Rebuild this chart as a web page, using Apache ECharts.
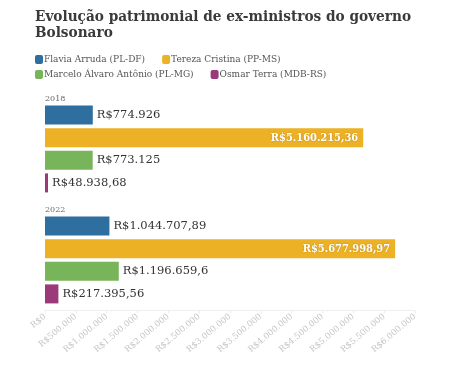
<!DOCTYPE html>
<html><head><meta charset="utf-8">
<script src="https://cdn.jsdelivr.net/npm/echarts@6/dist/echarts.min.js"></script>
<style>html,body{margin:0;padding:0;background:#fff}#c{width:449px;height:372px}</style>
</head><body><div id="c"></div>
<script>
const years = ['2018', '2022'];
const seriesNames = ['Flavia Arruda (PL-DF)', 'Tereza Cristina (PP-MS)', 'Marcelo Álvaro Antônio (PL-MG)', 'Osmar Terra (MDB-RS)'];
const flavia = [774926, 1044707.89];
const tereza = [5160215.36, 5677998.97];
const marcelo = [773125, 1196659.6];
const osmar = [48938.68, 217395.56];
const flaviaLabels = ['R$774.926', 'R$1.044.707,89'];
const terezaLabels = ['R$5.160.215,36', 'R$5.677.998,97'];
const marceloLabels = ['R$773.125', 'R$1.196.659,6'];
const osmarLabels = ['R$48.938,68', 'R$217.395,56'];
const xTicks = ['R$0','R$500.000','R$1.000.000','R$1.500.000','R$2.000.000','R$2.500.000','R$3.000.000','R$3.500.000','R$4.000.000','R$4.500.000','R$5.000.000','R$5.500.000','R$6.000.000'];

const colors = ['#2f6f9f', '#ecb125', '#77b45a', '#9a3a7a'];
const FONT = 'DejaVu Serif';
const FONT_C = "'DejaVu Serif Condensed', 'DejaVu Serif'";
const values = [flavia, tereza, marcelo, osmar];
const labels = [flaviaLabels, terezaLabels, marceloLabels, osmarLabels];

const chart = echarts.init(document.getElementById('c'), null, {renderer: 'canvas'});
const series = seriesNames.map((name, i) => ({
  name: name,
  type: 'bar',
  barWidth: 19,
  barGap: '19%',
  barCategoryGap: '22%',
  itemStyle: {color: colors[i], borderRadius: 0},
  label: i === 1 ? {
    show: true, position: 'insideRight', distance: 5,
    color: '#fff', fontFamily: FONT_C, fontSize: 11, fontWeight: 'bold',
    textShadowColor: 'rgba(0,0,0,0.2)', textShadowBlur: 2,
    formatter: p => labels[i][p.dataIndex]
  } : {
    show: true, position: 'right', distance: 4,
    color: '#333', fontFamily: FONT, fontSize: 11.5,
    formatter: p => labels[i][p.dataIndex]
  },
  data: values[i]
}));

chart.setOption({
  animation: false,
  title: {
    text: 'Evolução patrimonial de ex-ministros do governo\nBolsonaro',
    left: 35, top: 9, padding: 0,
    textStyle: {fontFamily: FONT_C, fontWeight: 'bold', fontSize: 15.2, color: '#3a3a3a', lineHeight: 16}
  },
  legend: {
    left: 35, top: 54, width: 330,
    itemWidth: 8, itemHeight: 9, itemGap: 4,
    icon: 'roundRect',
    padding: 0,
    textStyle: {fontFamily: FONT, fontSize: 9, lineHeight: 11, color: '#555', padding: [0, 13, 0, -4]},
    data: seriesNames
  },
  grid: {left: 45, right: 34, top: 93.5, bottom: 56.5, containLabel: false},
  xAxis: {
    type: 'value', min: 0, max: 6000000, interval: 500000,
    offset: -5,
    splitLine: {show: false},
    axisLine: {show: true, lineStyle: {color: '#eee'}},
    axisTick: {show: true, length: 3, lineStyle: {color: '#eee'}},
    axisLabel: {
      rotate: 40, color: '#c4c4c4', fontFamily: FONT, fontSize: 8.5, margin: 5,
      formatter: (v) => xTicks[Math.round(v / 500000)]
    }
  },
  yAxis: {
    type: 'category', data: years, inverse: true,
    axisLine: {show: false}, axisTick: {show: false},
    axisLabel: {
      inside: true, margin: 0, align: 'left', verticalAlign: 'middle',
      formatter: v => '{y|' + v + '}',
      rich: {y: {padding: [0, 0, 100, 0], color: '#666', fontFamily: FONT, fontSize: 8}}
    }
  },
  series: series
});
</script></body></html>
